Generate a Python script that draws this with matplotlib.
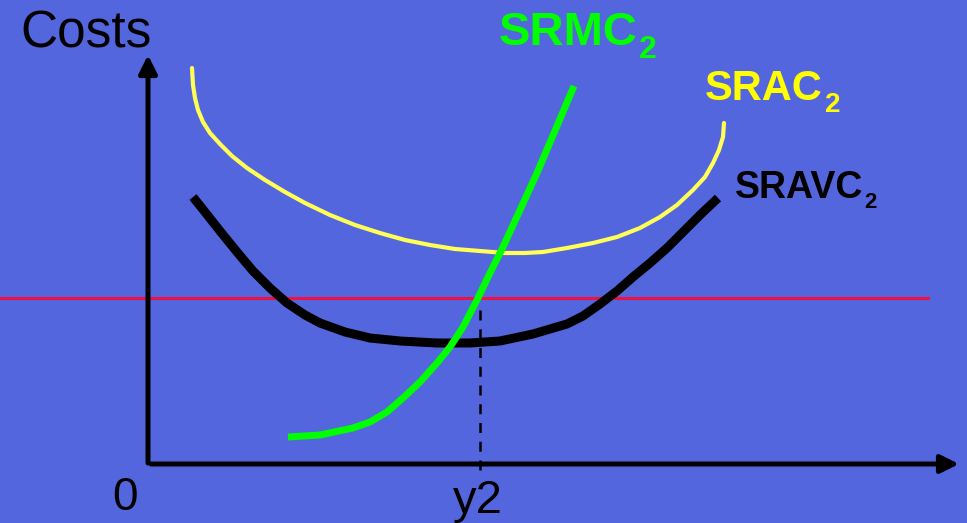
import matplotlib
matplotlib.use("Agg")
import matplotlib.pyplot as plt

# ---- data (quantity, cost) in arbitrary schematic units; origin at axes corner ----
srac_q = [42, 43, 45, 48, 53, 60, 70, 82, 97, 115, 135, 155, 180, 205, 230, 255, 280,
          305, 330, 355, 375, 393, 417, 443, 467, 490, 510, 527, 543, 555, 563, 569, 573, 574]
srac_c = [396, 379, 366, 354, 342, 331, 320, 308, 296, 284, 272, 261, 249, 239, 231, 224, 219,
          215, 213, 211, 211, 212, 216, 221, 227, 236, 247, 259, 274, 287, 301, 314, 327, 341]

sravc_q = [43, 55, 70, 87, 103, 120, 137, 155, 170, 195, 220, 250, 287, 320, 350, 383,
           417, 433, 450, 467, 483, 500, 517, 533, 550, 568]
sravc_c = [267, 252, 233, 212, 193, 176, 161, 149, 141, 132, 126, 123, 121, 121, 123, 130,
           140, 148, 160, 173, 187, 201, 216, 232, 249, 266]

srmc_q = [138, 170, 203, 220, 237, 253, 270, 287, 300, 313, 327, 340, 353, 387, 424]
srmc_c = [27, 29, 36, 42, 52, 66, 82, 101, 117, 137, 164, 191, 217, 291, 378]

price_level = 166
y2_quantity = 330

labels = {"costs": "Costs", "origin": "0", "y2": "y2",
          "srmc": "SRMC", "srac": "SRAC", "sravc": "SRAVC", "sub": "2"}

BG = "#5366DE"
FONT = "Liberation Sans"

fig = plt.figure(figsize=(9.67, 5.23), dpi=100)
fig.patch.set_facecolor(BG)
ax = fig.add_axes([0, 0, 1, 1])
ax.set_facecolor(BG)
ax.set_xlim(-150, 817)
ax.set_ylim(-59, 464)
ax.axis("off")

# axes arrows
arrow_kw = dict(arrowstyle="-|>,head_length=0.4,head_width=0.2", color="black",
                lw=3.6, mutation_scale=27, shrinkA=0, shrinkB=0)
ax.annotate("", xy=(-2, 409), xytext=(-2, 1), arrowprops=arrow_kw)
ax.annotate("", xy=(809, 0), xytext=(1, 0), arrowprops=arrow_kw)

# price line
ax.plot([-150, 778], [price_level, price_level], color="#EE1144", lw=2.2, zorder=2)

# dashed y2 line
ax.plot([y2_quantity, y2_quantity], [-6, 156], color="black", lw=1.8,
        dashes=(4, 3.5), zorder=2)

# curves
ax.plot(srac_q, srac_c, color="#FFFF55", lw=3.0, solid_capstyle="round",
        solid_joinstyle="round", zorder=3)
ax.plot(sravc_q, sravc_c, color="black", lw=6.5, solid_capstyle="butt",
        solid_joinstyle="round", zorder=4)
ax.plot(srmc_q, srmc_c, color="#00FF00", lw=5.0, solid_capstyle="butt",
        solid_joinstyle="round", zorder=5)

# texts
ax.text(-130, 416, labels["costs"], fontsize=37, family=FONT, color="black",
        ha="left", va="baseline")
ax.text(-25, -46, labels["origin"], fontsize=33, family=FONT, color="black",
        ha="center", va="baseline")
ax.text(328, -49, labels["y2"], fontsize=34, family=FONT, color="black",
        ha="center", va="baseline")

ax.text(349, 419, labels["srmc"], fontsize=34, family=FONT, weight="bold",
        color="#00FF00", ha="left", va="baseline")
ax.text(489, 406, labels["sub"], fontsize=23, family=FONT, weight="bold",
        color="#00FF00", ha="left", va="baseline")

ax.text(555, 364, labels["srac"], fontsize=30, family=FONT, weight="bold",
        color="#FFFF00", ha="left", va="baseline")
ax.text(675, 352, labels["sub"], fontsize=20, family=FONT, weight="bold",
        color="#FFFF00", ha="left", va="baseline")

ax.text(585, 266, labels["sravc"], fontsize=27, family=FONT, weight="bold",
        color="black", ha="left", va="baseline")
ax.text(714, 256, labels["sub"], fontsize=16, family=FONT, weight="bold",
        color="black", ha="left", va="baseline")

fig.savefig("out.png", dpi=100, facecolor=BG)
